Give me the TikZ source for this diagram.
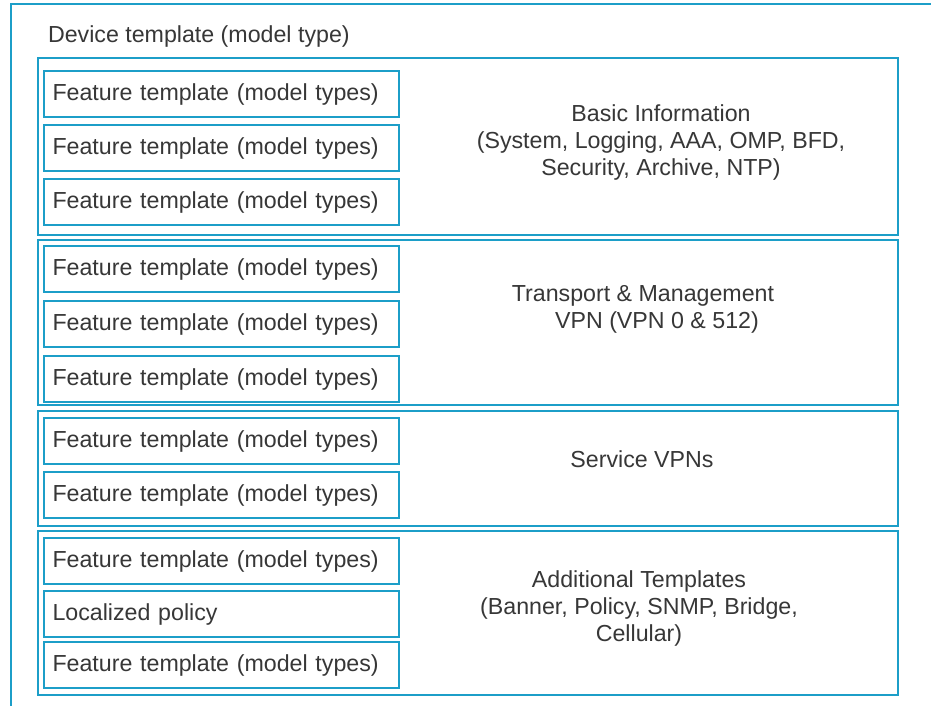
\documentclass[tikz,border=0pt]{standalone}
\usepackage{fontspec}
\setmainfont{Liberation Sans}
\definecolor{tealline}{RGB}{28,158,200}
\definecolor{labeltext}{RGB}{55,55,55}
\begin{document}
\begin{tikzpicture}[x=1pt,y=-1pt,line width=2pt,
  box/.style={draw=tealline},
  feat/.style={draw=tealline,anchor=north west,minimum height=46pt,text width=338pt,
    inner xsep=8.5pt,inner ysep=0pt,align=left,text=labeltext,
    font=\fontsize{23.2}{27}\selectfont},
  grouplabel/.style={align=center,inner sep=0pt,text=labeltext,
    font=\fontsize{23.2}{27}\selectfont}]
		\useasboundingbox (0,0) rectangle (931,705);
		\fill[white] (0,0) rectangle (931,705);
		\begin{scope}
		\clip (0,0) rectangle (931,705);
		\draw[box] (11,4) rectangle (945,720);
		\end{scope}
		\node[grouplabel,anchor=west] (device) at (47,36) {Device template (model type)};
		\draw[box] (38,58) rectangle (898,235);
		\draw[box] (38,240) rectangle (898,405);
		\draw[box] (38,411) rectangle (898,526);
		\draw[box] (38,531) rectangle (898,695);
		\node[feat] (basicA) at (43,70) {Feature template (model types)};
		\node[feat] (basicB) at (43,124) {Feature template (model types)};
		\node[feat] (basicC) at (43,178) {Feature template (model types)};
		\node[feat] (transA) at (43,245) {Feature template (model types)};
		\node[feat] (transB) at (43,300) {Feature template (model types)};
		\node[feat] (transC) at (43,355) {Feature template (model types)};
		\node[feat] (serviceA) at (43,417) {Feature template (model types)};
		\node[feat] (serviceB) at (43,471) {Feature template (model types)};
		\node[feat] (addA) at (43,537) {Feature template (model types)};
		\node[feat] (addB) at (43,590) {Localized policy};
		\node[feat] (addC) at (43,641) {Feature template (model types)};
		\node[grouplabel] (basic) at (661,142) {Basic Information\\(System, Logging, AAA, OMP, BFD,\\Security, Archive, NTP)};
		\node[grouplabel] (transport) at (643,309) {Transport \& Management\\\hspace*{28pt}VPN (VPN 0 \& 512)};
		\node[grouplabel] (service) at (642,459) {Service VPNs};
		\node[grouplabel] (additional) at (639,608) {Additional Templates\\(Banner, Policy, SNMP, Bridge,\\Cellular)};
  \end{tikzpicture}
\end{document}
